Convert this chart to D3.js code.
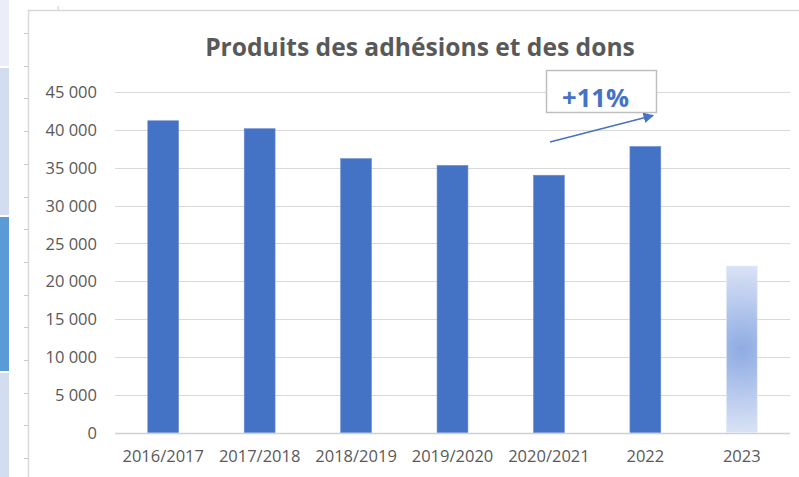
<!DOCTYPE html>
<html><head><meta charset="utf-8">
<script src="https://cdn.jsdelivr.net/npm/d3@7/dist/d3.min.js"></script>
<style>html,body{margin:0;padding:0;background:#fff;overflow:hidden}</style>
</head><body>
<svg id="c" width="799" height="477"></svg>
<script>
const categories = ["2016/2017","2017/2018","2018/2019","2019/2020","2020/2021","2022","2023"];
const values = [41200, 40150, 36200, 35300, 34000, 37800, 22000];
const yTicks = [0,5000,10000,15000,20000,25000,30000,35000,40000,45000];
const title = "Produits des adhésions et des dons";
const annotation = "+11%";

const svg = d3.select("#c");
const font = "'Open Sans', 'Liberation Sans', sans-serif";
const grey = "#595959";

// spreadsheet context strip on the left
const strip = [[0,66,"#e9eef8"],[68,215,"#d2ddef"],[217,371,"#5b9bd5"],[373,477,"#d2ddef"]];
svg.selectAll("rect.strip").data(strip).join("rect")
  .attr("x",0).attr("width",9).attr("y",d=>d[0]).attr("height",d=>d[1]-d[0]).attr("fill",d=>d[2]);

// chart frame
svg.append("path").attr("d","M28.5,477V10.5H799").attr("fill","none").attr("stroke","#d9d9d9").attr("stroke-width",1.5);
svg.append("line").attr("x1",58).attr("x2",58).attr("y1",6).attr("y2",10).attr("stroke","#c8c8c8");
d3.range(33,477,32.7).forEach(yy=>{
  svg.append("line").attr("x1",24).attr("x2",28).attr("y1",Math.round(yy)+0.5).attr("y2",Math.round(yy)+0.5).attr("stroke","#c8c8c8");
});

const x = d3.scaleBand().domain(categories).range([115,790]).paddingInner(0.68).paddingOuter(0.34);
const y = d3.scaleLinear().domain([0,45000]).range([432.5,92]);

// gridlines
svg.append("g").selectAll("line").data(yTicks).join("line")
  .attr("x1",115).attr("x2",790)
  .attr("y1",d=>Math.round(y(d))+0.5).attr("y2",d=>Math.round(y(d))+0.5)
  .attr("stroke",d=>d===0?"#d0d0d0":"#d9d9d9").attr("stroke-width",d=>d===0?1.5:1);

// y axis labels
const fmt = v => d3.format(",")(v).replace(/,/g," ");
const yAxis = d3.axisLeft(y).tickValues(yTicks).tickFormat(fmt).tickSize(0).tickPadding(0);
const ya = svg.append("g").attr("transform","translate(97,0)").call(yAxis);
ya.select(".domain").remove();
ya.selectAll("text").attr("font-family",font).attr("font-size",16.5).attr("fill",grey).attr("dy","0.35em");

// x axis labels
const xAxis = d3.axisBottom(x).tickSize(0).tickPadding(0);
const xa = svg.append("g").attr("transform","translate(0,450)").call(xAxis);
xa.select(".domain").remove();
xa.selectAll("text").attr("font-family",font).attr("font-size",16.5).attr("fill",grey).attr("dy","0.71em");

// gradient for last bar (centred on the bar, mostly vertical fade)
const defs = svg.append("defs");
const last = categories.length-1;
const bx = x(categories[last]) + x.bandwidth()/2;
const by = (y(values[last]) + y(0))/2;
const br = (y(0) - y(values[last]))/2;
const rg = defs.append("radialGradient").attr("id","g23").attr("gradientUnits","userSpaceOnUse")
  .attr("cx",bx).attr("cy",by).attr("r",br*1.05);
rg.append("stop").attr("offset","0%").attr("stop-color","#8eabe3");
rg.append("stop").attr("offset","100%").attr("stop-color","#dde5f6");

// bars
svg.append("g").selectAll("rect").data(values).join("rect")
  .attr("x",(d,i)=>x(categories[i]))
  .attr("width",x.bandwidth())
  .attr("y",d=>y(d))
  .attr("height",d=>y(0)-y(d))
  .attr("fill",(d,i)=>i===last?"url(#g23)":"#4472c4")
  .attr("stroke",(d,i)=>i===last?"#e3e9f6":"#6d8fd0")
  .attr("stroke-width",0.6);

// title
const t = svg.append("text").attr("x",420).attr("y",56).attr("text-anchor","middle")
  .attr("font-family",font).attr("font-weight","bold").attr("fill",grey).attr("font-size",22).text(title);
const w = t.node().getComputedTextLength();
t.attr("font-size",22*430/w);

// annotation box
svg.append("rect").attr("x",546.5).attr("y",70.5).attr("width",110).attr("height",42)
  .attr("fill","#fff").attr("stroke","#bfbfbf").attr("stroke-width",1.5);
const a = svg.append("text").attr("x",595.5).attr("y",106.5).attr("text-anchor","middle")
  .attr("font-family",font).attr("font-weight","bold").attr("fill","#4472c4").attr("font-size",24).text(annotation);
const aw = a.node().getComputedTextLength();
a.attr("font-size",24*67/aw);

// arrow
defs.append("marker").attr("id","ah").attr("viewBox","0 0 10 10").attr("refX",9).attr("refY",5)
  .attr("markerWidth",7).attr("markerHeight",7).attr("orient","auto")
  .append("path").attr("d","M0,0L10,5L0,10z").attr("fill","#4472c4");
svg.append("line").attr("x1",550).attr("y1",142).attr("x2",653).attr("y2",115.5)
  .attr("stroke","#4472c4").attr("stroke-width",1.5).attr("marker-end","url(#ah)");
</script>
</body></html>
